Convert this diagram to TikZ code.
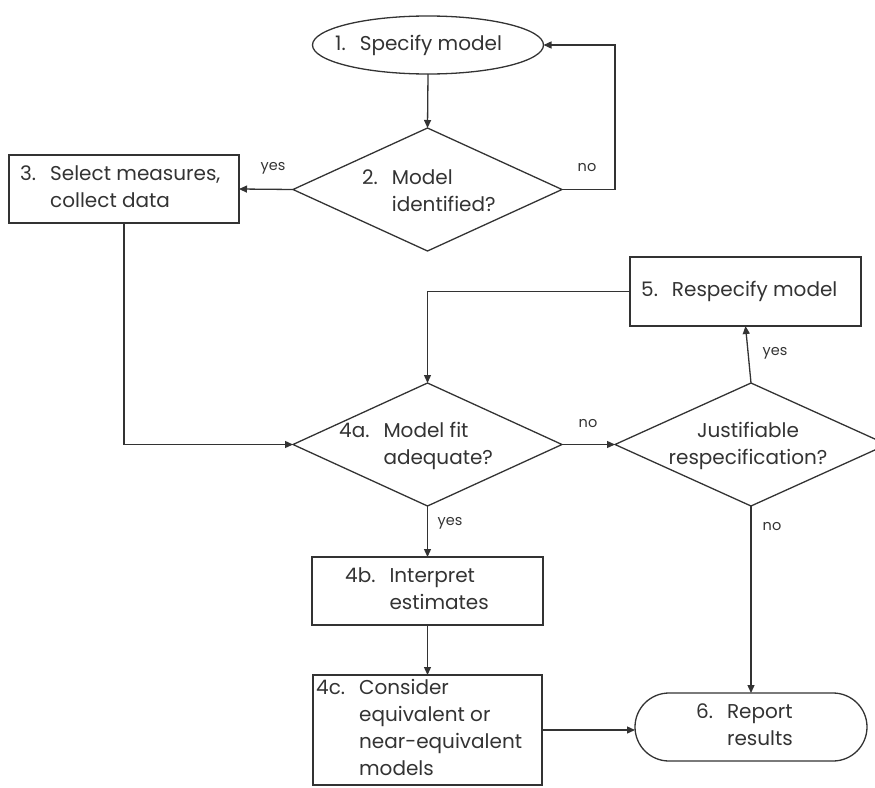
\documentclass[tikz,border=0pt]{standalone}
\usepackage{fontspec}
\setmainfont{Poppins}
\usetikzlibrary{shapes.geometric,arrows.meta}
\definecolor{ink}{HTML}{333333}
% numbered step text: number, then lines aligned after the number
\newcommand{\numbered}[2]{\begin{tabular}{@{}l@{\hspace{0.7em}}l@{}}#1 & #2\end{tabular}}
\begin{document}
\begin{tikzpicture}[x=1pt,y=-1pt,
  outline/.style={draw=ink,line width=1.3pt,inner sep=0pt,outer sep=0pt},
  stepbox/.style={outline,rectangle,minimum width=230pt,minimum height=68pt},
  decision/.style={outline,diamond,minimum width=269pt,minimum height=123pt},
  startnode/.style={outline,ellipse,minimum width=231pt,minimum height=58pt},
  endnode/.style={outline,rectangle,rounded corners=34pt,minimum width=232pt,minimum height=68pt},
  txt/.style={text=ink,font=\fontsize{20}{27}\selectfont,align=left,inner sep=0pt,anchor=west},
  lbl/.style={text=ink,font=\fontsize{14.5}{17}\selectfont,inner sep=0pt},
  flow/.style={draw=ink,line width=1.3pt,-{Triangle[length=8pt,width=7pt]}}
]
\useasboundingbox (0,0) rectangle (875,787);

% shapes
\node[startnode] (s1) at (428,45) {};
\node[decision] (d2) at (427.5,189.5) {};
\node[stepbox] (b3) at (124,189) {};
\node[stepbox,minimum width=231pt,minimum height=69pt] (b5) at (745.5,291.5) {};
\node[decision] (d4a) at (427.5,444.5) {};
\node[decision,minimum width=272pt] (dj) at (751,444.5) {};
\node[stepbox,minimum width=231pt] (b4b) at (427.5,591) {};
\node[stepbox,minimum width=229pt,minimum height=110pt] (b4c) at (427.5,730) {};
\node[endnode] (r6) at (751,727) {};

% texts
\node[txt] (t1) at (335,45) {\numbered{1.}{Specify model}};
\node[txt] (t2) at (362,193) {\numbered{2.}{Model\\ & identified?}};
\node[txt] (t3) at (20,189) {\numbered{3.}{Select measures,\\ & collect data}};
\node[txt] (t5) at (641,291.5) {\numbered{5.}{Respecify model}};
\node[txt] (t4a) at (339,446) {\numbered{4a.}{Model fit\\ & adequate?}};
\node[txt,align=center,anchor=center] (tj) at (748,446) {Justifiable\\respecification?};
\node[txt] (t4b) at (345,591) {\numbered{4b.}{Interpret\\ & estimates}};
\node[txt] (t4c) at (316,730) {\numbered{4c.}{Consider\\ & equivalent or\\ & near-equivalent\\ & models}};
\node[txt] (t6) at (696,727) {\numbered{6.}{Report\\ & results}};

% connectors
\draw[flow] (s1.south) -- (d2.north);
\draw[flow] (d2.west) -- (b3.east);
\draw[flow] (d2.east) -- ++(53,0) |- (s1.east);
\draw[flow] (b3.south) |- (d4a.west);
\draw[flow] (d4a.east) -- (dj.west);
\draw[flow] (dj.north) -- (b5.south);
\draw[flow] (b5.west) -| (d4a.north);
\draw[flow] (d4a.south) -- (b4b.north);
\draw[flow] (b4b.south) -- (b4c.north);
\draw[flow] (b4c.east) -- (b4c.east -| r6.west);
\draw[flow] (dj.south) -- (r6.north);

% branch labels
\node[lbl] (ly1) at (273,168) {yes};
\node[lbl] (ln1) at (587,168) {no};
\node[lbl] (ln2) at (588,424) {no};
\node[lbl] (ly2) at (775,353) {yes};
\node[lbl] (ly3) at (450,523) {yes};
\node[lbl] (ln3) at (772,527) {no};
\end{tikzpicture}
\end{document}
